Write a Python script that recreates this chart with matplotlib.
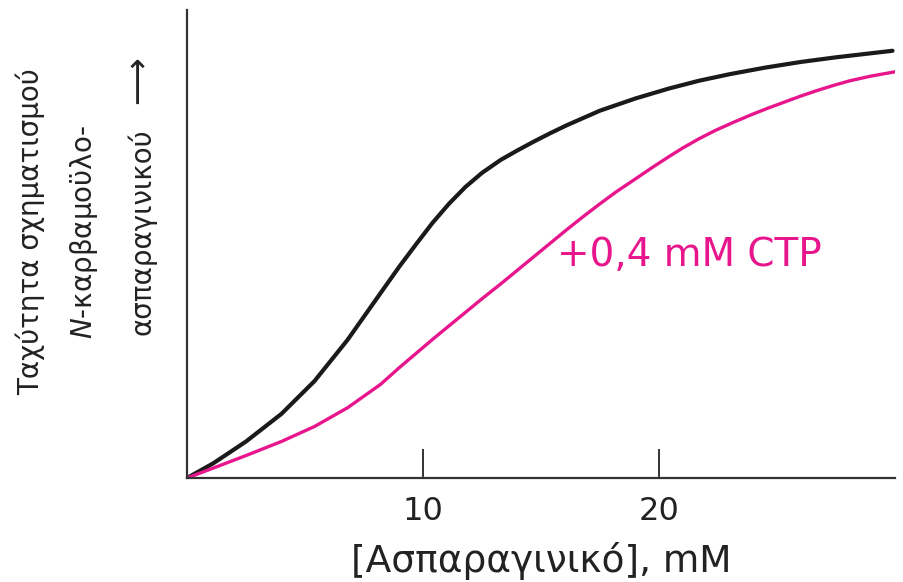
import numpy as np
import matplotlib
matplotlib.use('Agg')
import matplotlib.pyplot as plt

plt.rcParams['font.family'] = ['DejaVu Sans']

# values (arbitrary rate units, 0..1)
asp = [0, 1.1, 2.5, 4.0, 5.4, 6.8, 8.2, 9.0, 9.7, 10.4, 11.1, 11.8, 12.5, 13.3,
       14.0, 14.7, 15.4, 16.1, 17.5, 19.0, 20.4, 21.7, 23.0, 24.5, 26.0, 27.5, 29.9]
rate_no_ctp = [0, 0.031, 0.078, 0.137, 0.207, 0.295, 0.395, 0.452, 0.499, 0.545, 0.586, 0.622,
               0.652, 0.680, 0.700, 0.719, 0.737, 0.754, 0.785, 0.811, 0.832, 0.849, 0.863,
               0.877, 0.889, 0.899, 0.913]

asp_ctp = [0, 1.1, 2.5, 4.0, 5.4, 6.8, 8.2, 9.0, 9.7, 10.4, 11.1, 11.8, 12.5, 13.3,
           14.0, 14.7, 15.4, 16.1, 16.8, 17.5, 18.2, 19.0, 19.7, 20.4, 21.0, 21.7,
           22.4, 23.2, 23.9, 24.6, 25.3, 26.0, 26.7, 27.4, 28.1, 29.0, 30.0]
rate_ctp = [0, 0.021, 0.048, 0.078, 0.110, 0.150, 0.200, 0.236, 0.266, 0.296, 0.325, 0.354,
            0.383, 0.415, 0.444, 0.473, 0.502, 0.531, 0.559, 0.586, 0.612, 0.639, 0.663,
            0.686, 0.705, 0.725, 0.743, 0.761, 0.776, 0.790, 0.803, 0.816, 0.828, 0.839,
            0.849, 0.859, 0.868]

xticks = [10, 20]
ctp_label = '+0,4 mM CTP'

fig = plt.figure(figsize=(9.04, 5.82), dpi=100)
ax = fig.add_axes([0.2069, 0.1787, 0.783, 0.804])

ax.plot(asp, rate_no_ctp, color='#1a1a1a', lw=3.0, solid_joinstyle='round', solid_capstyle='round')
ax.plot(asp_ctp, rate_ctp, color='#e8168c', lw=2.4, solid_joinstyle='round', solid_capstyle='round')

ax.text(15.7, 0.476, ctp_label, color='#e8168c', fontsize=28, va='center', ha='left')

ax.set_xlim(0, 30)
ax.set_ylim(0, 1)
ax.spines['top'].set_visible(False)
ax.spines['right'].set_visible(False)
for s in ['left', 'bottom']:
    ax.spines[s].set_color('#333333')
    ax.spines[s].set_linewidth(1.6)

ax.set_xticks(xticks)
ax.set_xticklabels([str(t) for t in xticks])
ax.set_yticks([])
ax.tick_params(axis='x', direction='in', length=21, width=1.4, color='#333333',
               labelsize=23, labelcolor='#222222', pad=13)

ax.set_xlabel('[Ασπαραγινικό], mM', fontsize=27, color='#222222', labelpad=11)

fig.text(30 / 904, 1 - 232 / 582, 'Ταχύτητα σχηματισμού', rotation=90,
         fontsize=20, color='#222222', ha='center', va='center')
fig.text(84 / 904, 1 - 232 / 582, '$\\mathit{N}$-καρβαμοϋλο-', rotation=90,
         fontsize=20, color='#222222', ha='center', va='center')
fig.text(142 / 904, 1 - 232 / 582, 'ασπαραγινικού', rotation=90,
         fontsize=20, color='#222222', ha='center', va='center')
fig.text(138 / 904, 1 - 80 / 582, '⟶', rotation=90,
         fontsize=24, color='#222222', ha='center', va='center')

fig.savefig('out.png', dpi=100)
